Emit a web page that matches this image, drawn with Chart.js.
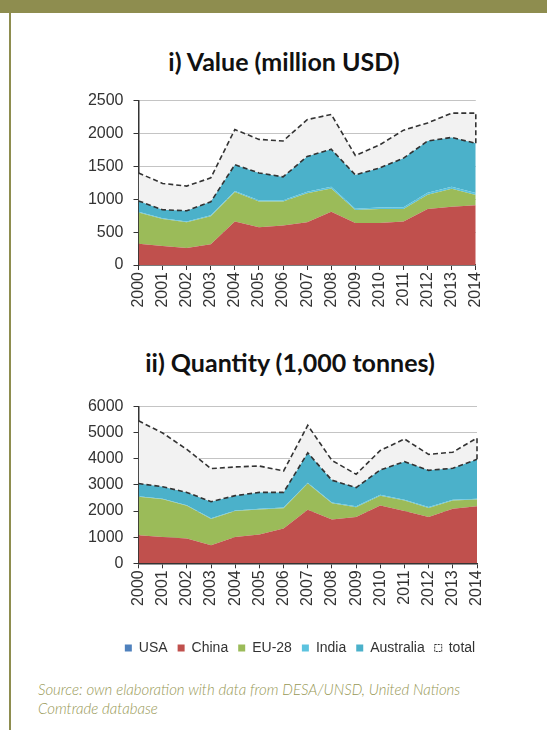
<!DOCTYPE html>
<html>
<head>
<meta charset="utf-8">
<script src="https://cdn.jsdelivr.net/npm/chart.js@4.4.1/dist/chart.umd.min.js"></script>
<style>
  body { margin: 0; background: #fff; width: 547px; height: 730px; position: relative; overflow: hidden; }
  .band { position: absolute; left: 0; top: 0; width: 547px; height: 13px; background: #8e8d4f; }
  .rule { position: absolute; left: 9px; top: 13px; width: 2px; height: 717px; background: #8e8d4f; }
  .title { position: absolute; width: 400px; text-align: center; font-family: Lato, sans-serif; font-weight: bold; font-size: 25px; color: #111; white-space: nowrap; }
  .src { position: absolute; left: 38px; top: 680px; font-family: Lato, sans-serif; font-style: italic; font-weight: 300; font-size: 15px; line-height: 19px; color: #979855; }
  canvas { position: absolute; }
</style>
</head>
<body>
<div class="band"></div>
<div class="rule"></div>
<div class="title" style="top:46px; left:84px;">i) Value (million USD)</div>
<canvas id="valor" style="left:60px; top:81px;" width="437" height="239"></canvas>
<div class="title" style="top:347px; left:90px;">ii) Quantity (1,000 tonnes)</div>
<canvas id="qtd" style="left:60px; top:387px;" width="480" height="278"></canvas>
<div class="src">Source: own elaboration with data from DESA/UNSD, United Nations<br>Comtrade database</div>
<script>
const anos = ["2000", "2001", "2002", "2003", "2004", "2005", "2006", "2007", "2008", "2009", "2010", "2011", "2012", "2013", "2014"];
const series = ["USA", "China", "EU-28", "India", "Australia", "total"];

// i) value, million USD
const valUSA = [0, 0, 0, 0, 0, 0, 0, 0, 0, 0, 0, 0, 0, 0, 0];
const valChina = [325, 290, 260, 315, 660, 575, 600, 650, 810, 640, 640, 660, 850, 885, 910];
const valEU = [475, 410, 390, 425, 450, 390, 365, 440, 355, 195, 210, 190, 220, 275, 155];
const valIndia = [10, 10, 10, 15, 15, 20, 20, 25, 25, 20, 25, 30, 30, 30, 30];
const valAustralia = [165, 130, 165, 205, 400, 415, 355, 535, 570, 515, 600, 745, 785, 750, 755];
const valTotal = [1400, 1240, 1200, 1325, 2060, 1910, 1885, 2210, 2290, 1665, 1825, 2050, 2160, 2310, 2310];

// ii) quantity, 1,000 tonnes
const qtdUSA = [0, 0, 0, 0, 0, 0, 0, 0, 0, 0, 0, 0, 0, 0, 0];
const qtdChina = [1070, 1010, 950, 695, 1010, 1100, 1330, 2050, 1680, 1770, 2210, 2000, 1770, 2085, 2185];
const qtdEU = [1480, 1440, 1250, 1005, 990, 960, 780, 1005, 620, 380, 380, 400, 350, 315, 255];
const qtdIndia = [20, 20, 20, 25, 25, 25, 25, 30, 30, 30, 35, 35, 35, 35, 35];
const qtdAustralia = [485, 460, 495, 635, 565, 630, 580, 1145, 850, 720, 950, 1455, 1405, 1205, 1505];
const qtdTotal = [5455, 4990, 4360, 3625, 3690, 3725, 3535, 5280, 3940, 3410, 4320, 4760, 4170, 4255, 4800];

const cores = ["#4f81bd", "#c0504d", "#9bbb59", "#5cc3df", "#4bb1ca", "#f2f2f2"];
const tickFont = { family: "'Liberation Sans', Arial, sans-serif", size: 16 };

// dashed right edge of the "total" band at the last year
const bordaFinal = {
  id: "bordaFinal",
  afterDatasetsDraw(chart) {
    const a = chart.getDatasetMeta(4).data;
    const t = chart.getDatasetMeta(5).data;
    const n = a.length - 1;
    const ctx = chart.ctx;
    ctx.save();
    ctx.strokeStyle = "#333";
    ctx.lineWidth = 1.6;
    ctx.setLineDash([5, 3]);
    ctx.beginPath();
    ctx.moveTo(a[n].x, a[n].y);
    ctx.lineTo(t[n].x, t[n].y);
    ctx.stroke();
    ctx.restore();
  },
};

function montar(id, valores, max, passo, xAltura, folgaDireita, comLegenda) {
  const datasets = valores.map((v, i) => ({
    label: series[i],
    data: v,
    backgroundColor: cores[i],
    borderColor: i >= 4 ? "#333" : cores[i],
    borderWidth: i >= 4 ? 1.6 : 0,
    borderDash: i >= 4 ? [5, 3] : [],
    fill: i === 0 ? "origin" : "-1",
    stack: i === 5 ? "total" : "areas",
    pointRadius: 0,
    tension: 0,
  }));
  return new Chart(document.getElementById(id), {
    type: "line",
    data: { labels: anos, datasets: datasets },
    plugins: [bordaFinal],
    options: {
      responsive: false,
      animation: false,
      layout: { padding: { top: 10, right: 0, left: 0, bottom: 0 } },
      plugins: {
        tooltip: { enabled: false },
        legend: {
          display: comLegenda,
          position: "bottom",
          labels: {
            color: "#333",
            font: { family: "'Liberation Sans', Arial, sans-serif", size: 14 },
            boxWidth: 7,
            boxHeight: 7,
            padding: 10,
            generateLabels: (chart) =>
              Chart.defaults.plugins.legend.labels.generateLabels(chart).map((it, i) => {
                if (i < 5) {
                  it.strokeStyle = it.fillStyle;
                  it.lineWidth = 0;
                  it.lineDash = [];
                } else {
                  it.fillStyle = "#fff";
                  it.strokeStyle = "#333";
                  it.lineWidth = 1;
                  it.lineDash = [2, 1];
                }
                return it;
              }),
          },
        },
      },
      scales: {
        x: {
          offset: false,
          grid: { display: true, drawOnChartArea: false, drawTicks: true, tickLength: 5, tickColor: "#333" },
          border: { color: "#333", width: 1.5 },
          ticks: { color: "#333", font: tickFont, minRotation: 90, maxRotation: 90, autoSkip: false, padding: 2 },
          afterFit: (s) => { s.height = xAltura; },
        },
        y: {
          stacked: true,
          min: 0,
          max: max,
          grid: { color: "#c4c4c4", lineWidth: 1, tickLength: 5, tickColor: "#333" },
          border: { color: "#333", width: 1.5 },
          ticks: { stepSize: passo, color: "#333", font: tickFont, padding: 10, callback: (v) => String(v) },
          afterFit: (s) => { s.width = 78.5; },
        },
        // empty right-hand axis, only reserves room so the plot ends where the reference does
        folga: {
          position: "right",
          display: true,
          grid: { display: false },
          border: { display: false },
          ticks: { display: false },
          afterFit: (s) => { s.width = folgaDireita; },
        },
      },
    },
  });
}

montar("valor", [valUSA, valChina, valEU, valIndia, valAustralia, valTotal], 2500, 500, 55, 0, false);
montar("qtd", [qtdUSA, qtdChina, qtdEU, qtdIndia, qtdAustralia, qtdTotal], 6000, 1000, 67.7, 63, true);
</script>
</body>
</html>
